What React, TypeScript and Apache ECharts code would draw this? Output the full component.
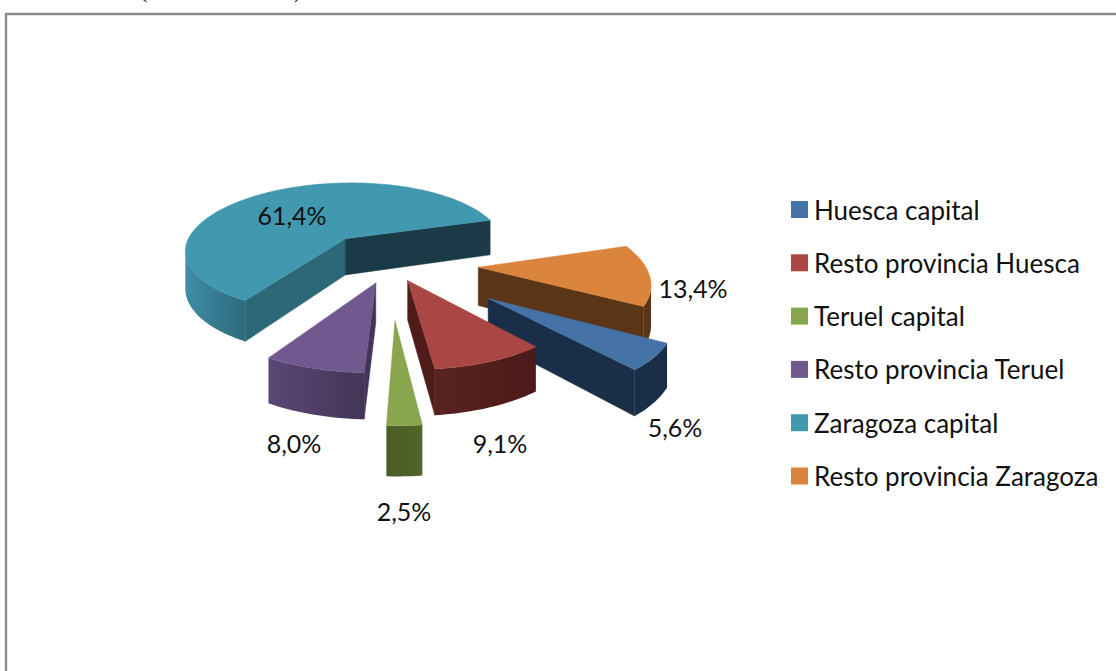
import React, { useEffect, useRef } from "react";
import * as echarts from "echarts";

const categories = ["Huesca capital", "Resto provincia Huesca", "Teruel capital", "Resto provincia Teruel", "Zaragoza capital", "Resto provincia Zaragoza"];
const shares = [5.6, 9.1, 2.5, 8.0, 61.4, 13.4];
const topColors = ["#4572A7", "#AA4643", "#89A54E", "#71588F", "#4198AF", "#DB843D"];
const startWallColors = ["#1b2e47", "#4e1c19", "#4f6228", "#433558", "#2d6878", "#5a3516"];
const endWallColors = ["#1b2e47", "#4e1c19", "#4f6228", "#433558", "#193a46", "#5a3516"];
const arcLeftColors = ["#1b2e47", "#5a2220", "#4a5c25", "#5b4776", "#3f8da6", "#5a3516"];
const arcRightColors = ["#1b2e47", "#4b1a18", "#526529", "#433558", "#2e6b7d", "#5a3516"];
const explosions = [0.72, 0.262, 0.73, 0.283, 0.46, 0.53];
const paintOrder = [4, 5, 0, 3, 1, 2];
const labelCentres = [[675, 427], [500, 443], [404, 511], [294, 443], [292, 215], [693, 288]];

const FIRST_ANGLE = 120.5;
const CX = 390, CY = 263, RX = 166, RY = 70.5, PERSP_X = 0.16, PERSP_Y = 0.145, DEPTH = 38;
const FONT = "Lato";

const total = shares.reduce((a, b) => a + b, 0);
const rad = (d: number) => (d * Math.PI) / 180;

function project(X: number, Y: number, lowered: boolean): [number, number] {
  const wx = 1 + PERSP_X * Y;
  const wy = 1 + PERSP_Y * Y;
  return [CX + (RX * X) / wx, CY - (RY * Y) / wy + (lowered ? DEPTH / wy : 0)];
}

function wall(top: [number, number][], bottom: [number, number][], fill: any) {
  return {
    type: "polygon",
    silent: true,
    shape: { points: [...top, ...bottom.slice().reverse()] },
    style: { fill, stroke: typeof fill === "string" ? fill : undefined, lineWidth: 0.5 },
  };
}

function renderSlice(params: any, api: any) {
  const idx = params.seriesIndex;
  const before = shares.slice(0, idx).reduce((a, b) => a + b, 0);
  const from = FIRST_ANGLE + (before / total) * 360;
  const to = from + ((api.value(0) as number) / total) * 360;
  const mid = rad((from + to) / 2);
  const ax = explosions[idx] * Math.sin(mid);
  const ay = explosions[idx] * Math.cos(mid);

  const angles: number[] = [];
  for (let a = from; a < to; a += 1.5) angles.push(a);
  angles.push(to);
  const world = angles.map((a) => [ax + Math.sin(rad(a)), ay + Math.cos(rad(a))]);
  const arcTop = world.map(([x, y]) => project(x, y, false));
  const arcBot = world.map(([x, y]) => project(x, y, true));
  const apexTop = project(ax, ay, false);
  const apexBot = project(ax, ay, true);

  const children: any[] = [];
  const last = arcTop.length - 1;
  if (arcTop[0][0] < apexTop[0]) {
    children.push(wall([apexTop, arcTop[0]], [apexBot, arcBot[0]], startWallColors[idx]));
  }
  if (apexTop[0] < arcTop[last][0]) {
    children.push(wall([arcTop[last], apexTop], [arcBot[last], apexBot], endWallColors[idx]));
  }
  let run: number[] = [];
  const flush = () => {
    if (run.length > 1) {
      children.push(
        wall(
          run.map((i) => arcTop[i]),
          run.map((i) => arcBot[i]),
          {
            type: "linear", x: 0, y: 0, x2: 1, y2: 0,
            colorStops: [
              { offset: 0, color: arcLeftColors[idx] },
              { offset: 1, color: arcRightColors[idx] },
            ],
          }
        )
      );
    }
    run = [];
  };
  for (let i = 0; i < last; i++) {
    if (arcTop[i + 1][0] < arcTop[i][0]) {
      if (!run.length) run.push(i);
      run.push(i + 1);
    } else flush();
  }
  flush();
  children.push({
    type: "polygon",
    silent: true,
    shape: { points: [apexTop, ...arcTop] },
    style: { fill: topColors[idx], stroke: topColors[idx], lineWidth: 0.5 },
  });
  return { type: "group", children };
}

const formatShare = (v: number) => `${v.toFixed(1).replace(".", ",")}%`;

export default function App() {
  const ref = useRef<HTMLDivElement>(null);
  useEffect(() => {
    document.body.style.margin = "0";
    const chart = echarts.init(ref.current!, undefined, { renderer: "svg" });
    chart.setOption({
      animation: false,
      backgroundColor: "#ffffff",
      legend: {
        data: categories,
        orient: "vertical",
        left: 786,
        top: 190,
        itemWidth: 17,
        itemHeight: 17,
        itemGap: 24.3,
        icon: "rect",
        selectedMode: false,
        textStyle: { fontFamily: FONT, fontSize: 26, color: "#111111", lineHeight: 29, padding: [0, 0, 0, 1] },
      },
      series: categories.map((name, i) => ({
        type: "custom",
        name,
        coordinateSystem: "none",
        renderItem: renderSlice,
        data: [[shares[i]]],
        itemStyle: { color: topColors[i] },
        z: 2 + paintOrder.indexOf(i),
        silent: true,
      })),
      graphic: [
        {
          type: "rect",
          silent: true,
          z: 1,
          shape: { x: 6, y: 14, width: 1300, height: 900 },
          style: { fill: "none", stroke: "#8c8c8c", lineWidth: 2.4 },
        },
        { type: "text", silent: true, x: 143, y: 1, style: { text: "(", fontFamily: "Liberation Serif", fontSize: 26, fill: "#222", textAlign: "center", textVerticalAlign: "bottom" } },
        { type: "text", silent: true, x: 298, y: 1, style: { text: ")", fontFamily: "Liberation Serif", fontSize: 26, fill: "#222", textAlign: "center", textVerticalAlign: "bottom" } },
        ...shares.map((v, i) => ({
          type: "text",
          silent: true,
          z: 50,
          x: labelCentres[i][0],
          y: labelCentres[i][1],
          style: { text: formatShare(v), fontFamily: FONT, fontSize: 25, fill: "#111111", textAlign: "center", textVerticalAlign: "middle" },
        })),
      ],
    });
    return () => chart.dispose();
  }, []);
  return <div ref={ref} style={{ position: "fixed", left: 0, top: 0, width: 1116, height: 671 }} />;
}
